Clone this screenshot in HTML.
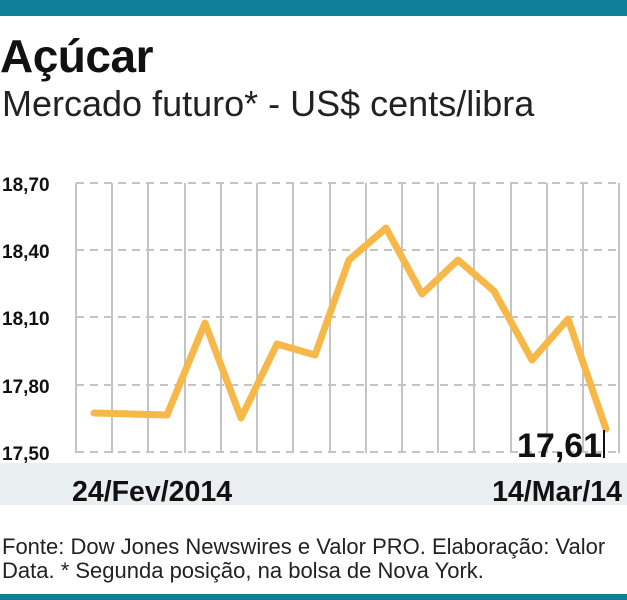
<!DOCTYPE html>
<html><head><meta charset="utf-8"><style>
body{margin:0;width:627px;height:600px;background:#fff;overflow:hidden;position:relative;font-family:"Liberation Sans Narrow","Liberation Sans",sans-serif;}
.abs{position:absolute;white-space:nowrap;}
</style></head><body>
<div class="abs" style="left:0;top:0;width:627px;height:16px;background:#0e7f97"></div>
<div class="abs" style="left:0;top:29px;font-size:46px;font-weight:bold;color:#111;letter-spacing:-0.5px">Açúcar</div>
<div class="abs" style="left:2px;top:83px;font-size:36px;color:#222">Mercado futuro* - US$ cents/libra</div>
<div class="abs" style="left:0;top:463px;width:627px;height:42px;background:#e9eef1"></div>
<svg class="abs" style="left:0;top:0" width="627" height="600">
<g stroke="#c4c4c4" stroke-width="2">
<line x1="76" y1="183" x2="76" y2="453"/><line x1="112" y1="183" x2="112" y2="453"/><line x1="148" y1="183" x2="148" y2="453"/><line x1="185" y1="183" x2="185" y2="453"/><line x1="221" y1="183" x2="221" y2="453"/><line x1="257" y1="183" x2="257" y2="453"/><line x1="293" y1="183" x2="293" y2="453"/><line x1="330" y1="183" x2="330" y2="453"/><line x1="366" y1="183" x2="366" y2="453"/><line x1="402" y1="183" x2="402" y2="453"/><line x1="438" y1="183" x2="438" y2="453"/><line x1="474" y1="183" x2="474" y2="453"/><line x1="511" y1="183" x2="511" y2="453"/><line x1="547" y1="183" x2="547" y2="453"/><line x1="583" y1="183" x2="583" y2="453"/><line x1="619" y1="183" x2="619" y2="453"/>
</g>
<g stroke="#c4c4c4" stroke-width="2" stroke-dasharray="8 6">
<line x1="76" y1="183" x2="620" y2="183"/><line x1="76" y1="250" x2="620" y2="250"/><line x1="76" y1="317" x2="620" y2="317"/><line x1="76" y1="385" x2="620" y2="385"/><line x1="76" y1="452" x2="620" y2="452"/>
</g>
<polyline fill="none" stroke="#f7b84a" stroke-width="7" stroke-linejoin="round" stroke-linecap="round" points="94,413 131,414 167,415 205,323 241,418 277,344 315,355 349,260 386,228 422,294 458,260 494,291 532,360 568,319 606,429"/>
<g font-family="Liberation Sans Narrow, Liberation Sans, sans-serif" font-weight="bold" font-size="19" fill="#111">
<text x="2" y="191">18,70</text><text x="2" y="258">18,40</text><text x="2" y="325">18,10</text><text x="2" y="393">17,80</text><text x="2" y="460">17,50</text>
<text x="517" y="457" font-size="34">17,61</text>
</g>
<line x1="604" y1="430" x2="604" y2="458" stroke="#111" stroke-width="2"/>
</svg>
<div class="abs" style="left:72px;top:476px;font-size:28.5px;font-weight:bold;color:#111">24/Fev/2014</div>
<div class="abs" style="right:5px;top:476px;font-size:28.5px;font-weight:bold;color:#111">14/Mar/14</div>
<div class="abs" style="left:2px;top:535px;font-size:22px;color:#222;line-height:24px">Fonte: Dow Jones Newswires e Valor PRO. Elaboração: Valor<br>Data. * Segunda posição, na bolsa de Nova York.</div>
<div class="abs" style="left:0;top:594px;width:627px;height:6px;background:#0e7f97"></div>
</body></html>
